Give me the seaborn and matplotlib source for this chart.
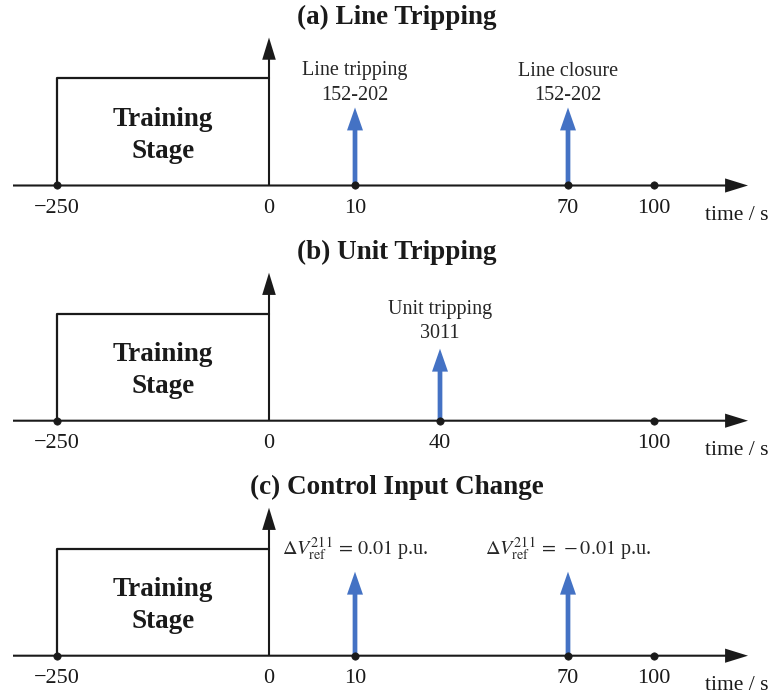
import numpy as np
import pandas as pd
import matplotlib
matplotlib.use("Agg")
import matplotlib.pyplot as plt
import matplotlib.transforms as mtransforms
import seaborn as sns

# ---------------------------------------------------------------- data
panel_titles = ["(a) Line Tripping", "(b) Unit Tripping", "(c) Control Input Change"]

tick_times_a = [-250, 0, 10, 70, 100]
tick_times_b = [-250, 0, 40, 100]
tick_times_c = [-250, 0, 10, 70, 100]

event_times_a = [10, 70]
event_labels_a = ["Line tripping\n152-202", "Line closure\n152-202"]
event_times_b = [40]
event_labels_b = ["Unit tripping\n3011"]
event_times_c = [10, 70]
event_labels_c = [r"$\Delta V_{\mathrm{ref}}^{211}\,=\,0.01$ p.u.",
                  r"$\Delta V_{\mathrm{ref}}^{211}\,=\,-0.01$ p.u."]

training_window = [-250, 0]
training_label = ["Training", "Stage"]
time_label = "time / s"

# ---------------------------------------------------------------- layout
FIG_W, FIG_H = 777, 694
# schematic (non-uniform) pixel position of each tick on the time line
tick_px_a = [57, 269, 355, 568, 654]
tick_px_b = [57, 269, 440, 654]
tick_px_c = [57, 269, 355, 568, 654]
band_top = [0, 235, 470]
band_bottom = [235, 470, 694]
baseline_px = [185.5, 420.7, 655.7]
event_tip = [78, 72, 84]          # arrow tip height above the time line (px)
label_base = [86, 83, 101]        # baseline of the lowest label line (px)
box_top = 107
vaxis_top = 148
line_start, line_end = 13, 748

BLACK = "#1a1a1a"
BLUE = "#4472C4"
TEXT = "#262626"

# filled arrow shapes, sizes in points
AXIS_H = "simple,head_length=16.5,head_width=10.2,tail_width=1.5"
AXIS_V = "simple,head_length=16,head_width=9.8,tail_width=1.5"
EVENT = "simple,head_length=16.5,head_width=11.5,tail_width=3.4"

sns.set_theme(style="white")
plt.rcParams["font.family"] = ["Liberation Serif", "DejaVu Serif"]
plt.rcParams["mathtext.fontset"] = "stix"


def piecewise_scale(times, px):
    t = np.asarray(times, float)
    p = np.asarray(px, float)

    def _map(x, a, b):
        x = np.asarray(x, float)
        y = np.interp(x, a, b)
        s0 = (b[1] - b[0]) / (a[1] - a[0])
        s1 = (b[-1] - b[-2]) / (a[-1] - a[-2])
        y = np.where(x < a[0], b[0] + (x - a[0]) * s0, y)
        y = np.where(x > a[-1], b[-1] + (x - a[-1]) * s1, y)
        return y

    return (lambda x: _map(x, t, p)), (lambda x: _map(x, p, t))


def arrow_props(style, color):
    return dict(arrowstyle=style, mutation_scale=1, lw=0, color=color,
                shrinkA=0, shrinkB=0)


fig = plt.figure(figsize=(FIG_W / 100, FIG_H / 100), dpi=100)

panels = [
    (tick_times_a, tick_px_a, event_times_a, event_labels_a),
    (tick_times_b, tick_px_b, event_times_b, event_labels_b),
    (tick_times_c, tick_px_c, event_times_c, event_labels_c),
]

for i, (ticks, px, ev_t, ev_lab) in enumerate(panels):
    top, bot, base = band_top[i], band_bottom[i], baseline_px[i]
    ax = fig.add_axes([0, (FIG_H - bot) / FIG_H, 1, (bot - top) / FIG_H])
    fwd, inv = piecewise_scale(ticks, px)
    ax.set_xscale("function", functions=(fwd, inv))
    ax.set_xlim(float(inv(0)), float(inv(FIG_W)))
    ax.set_ylim(-(bot - base), base - top)
    ax.set_axis_off()
    xfrac_ydata = mtransforms.blended_transform_factory(ax.transAxes, ax.transData)

    # time axis with arrow head
    ax.annotate("", xy=(line_end / FIG_W, 0), xytext=(line_start / FIG_W, 0),
                xycoords=("axes fraction", "data"),
                arrowprops=arrow_props(AXIS_H, BLACK))
    # vertical axis at t = 0
    ax.annotate("", xy=(0, vaxis_top), xytext=(0, 0),
                arrowprops=arrow_props(AXIS_V, BLACK))

    # training stage box
    box = pd.DataFrame({"t": [training_window[0], training_window[0], training_window[1]],
                        "h": [0, box_top, box_top]})
    sns.lineplot(data=box, x="t", y="h", sort=False, estimator=None,
                 color=BLACK, lw=1.6, ax=ax)
    mid = float(inv(np.mean(fwd(training_window))))
    ax.text(mid, 60, training_label[0], ha="center", va="baseline",
            fontsize=19.5, fontweight="bold", color=BLACK)
    ax.text(mid, 28, training_label[1], ha="center", va="baseline",
            fontsize=19.5, fontweight="bold", color=BLACK)

    # events
    for t, lab in zip(ev_t, ev_lab):
        ax.annotate("", xy=(t, event_tip[i]), xytext=(t, 0),
                    arrowprops=arrow_props(EVENT, BLUE), zorder=3)
        lines = lab.split("\n")
        for k, line in enumerate(reversed(lines)):
            ax.text(t, label_base[i] + 24 * k, line, ha="center", va="baseline",
                    fontsize=14.5, color=TEXT)

    # tick dots and labels
    dots = pd.DataFrame({"t": [t for t in ticks if t != 0],
                         "y": [0.0] * (len(ticks) - 1)})
    sns.scatterplot(data=dots, x="t", y="y", color=BLACK, s=28,
                    edgecolor=BLACK, linewidth=0.5, zorder=5, ax=ax, legend=False)
    for t in ticks:
        ax.text(t, -27.5, f"{t:g}".replace("-", "\u2212"), ha="center",
                va="baseline", fontsize=16, color=BLACK)
    ax.text(705 / FIG_W, -34.5, time_label, transform=xfrac_ydata,
            ha="left", va="baseline", fontsize=15.5, color=BLACK)

    # panel title
    ax.text(397 / FIG_W, 162, panel_titles[i], transform=xfrac_ydata,
            ha="center", va="baseline", fontsize=19.5, fontweight="bold", color=BLACK)

fig.savefig("out.png", dpi=100, facecolor="white")
